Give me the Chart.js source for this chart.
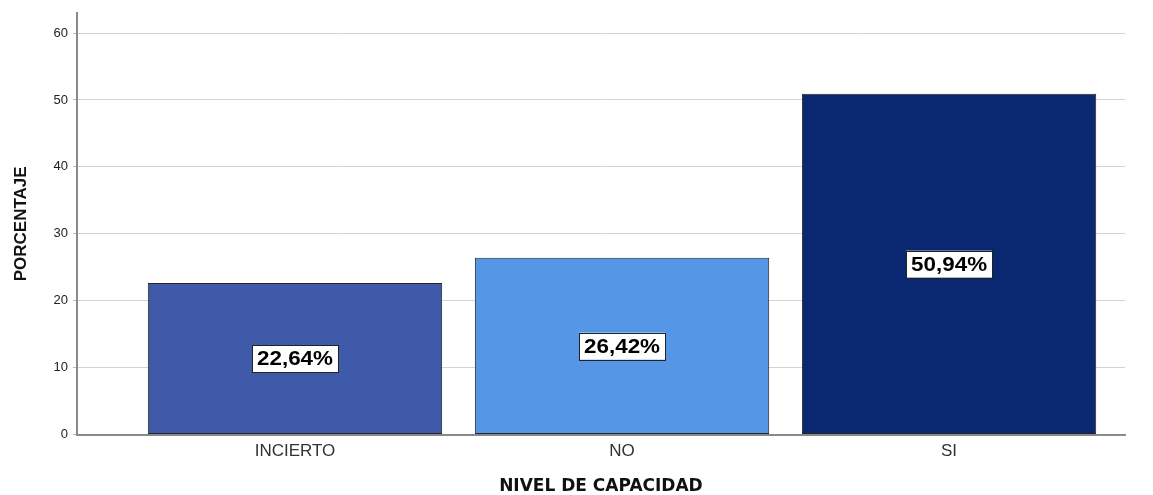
<!DOCTYPE html>
<html>
<head>
<meta charset="utf-8">
<script src="https://cdn.jsdelivr.net/npm/chart.js@4"></script>
<style>
  body { margin: 0; background: #fff; }
  #wrap { width: 1153px; height: 495px; }
</style>
</head>
<body>
<div id="wrap"><canvas id="myChart"></canvas></div>
<script>
'use strict';
const categories = ['INCIERTO', 'NO', 'SI'];
const values = [22.64, 26.42, 50.94];
const valueLabels = ['22,64%', '26,42%', '50,94%'];
const yTicks = [0, 10, 20, 30, 40, 50, 60];
const barColors = ['#3e5aa8', '#5596e6', '#0a2872'];

// boxed percentage labels in the middle of each bar
const boxLabels = {
  id: 'boxLabels',
  afterDatasetsDraw(chart) {
    let ctx = chart.ctx;
    let meta = chart.getDatasetMeta(0);
    let yScale = chart.scales.y;
    let stretch = 1.12;
    ctx.save();
    ctx.font = 'bold 20px "Liberation Sans", Arial, sans-serif';
    ctx.textAlign = 'center';
    ctx.textBaseline = 'middle';
    for (let i = 0; i < meta.data.length; i++) {
      let bar = meta.data[i];
      let y = yScale.getPixelForValue(values[i] / 2);
      let w = ctx.measureText(valueLabels[i]).width * stretch + 10;
      let h = 27;
      ctx.fillStyle = '#fff';
      ctx.fillRect(bar.x - w / 2, y - h / 2, w, h);
      ctx.strokeStyle = '#222';
      ctx.lineWidth = 1;
      ctx.strokeRect(Math.round(bar.x - w / 2) + 0.5, Math.round(y - h / 2) + 0.5, Math.round(w), h);
      ctx.fillStyle = '#000';
      ctx.save();
      ctx.translate(bar.x, y + 1);
      ctx.scale(stretch, 1);
      ctx.fillText(valueLabels[i], 0, 0);
      ctx.restore();
    }
    ctx.restore();
  }
};

let ctx = document.getElementById('myChart').getContext('2d');
let myChart = new Chart(ctx, {
  type: 'bar',
  data: {
    datasets: [{
      data: values.map((v, i) => ({ x: i, y: v })),
      backgroundColor: barColors,
      borderColor: '#262626',
      borderWidth: 1,
      borderSkipped: false,
      barPercentage: 0.9,
      categoryPercentage: 1.0
    }]
  },
  plugins: [boxLabels],
  options: {
    responsive: true,
    maintainAspectRatio: false,
    animation: false,
    layout: { padding: { top: 13, right: 28, left: 11, bottom: 0 } },
    plugins: {
      legend: { display: false },
      tooltip: { enabled: false }
    },
    scales: {
      x: {
        type: 'linear',
        offset: false,
        min: -0.667,
        max: 2.538,
        afterBuildTicks(scale) {
          scale.ticks = categories.map((c, i) => ({ value: i }));
        },
        ticks: {
          callback: (v) => categories[v],
          color: '#333',
          font: { family: '"Liberation Sans", Arial, sans-serif', size: 17 },
          padding: 7,
          maxRotation: 0
        },
        grid: { display: false, drawTicks: false },
        border: { color: '#8a8a8a', width: 2 },
        title: {
          display: true,
          text: 'NIVEL DE CAPACIDAD',
          color: '#111',
          font: { family: '"DejaVu Sans", sans-serif', size: 17, weight: 'bold', lineHeight: 1 },
          padding: { top: 9, bottom: 0 }
        }
      },
      y: {
        min: 0,
        max: 63,
        afterBuildTicks(scale) {
          scale.ticks = yTicks.map(v => ({ value: v }));
        },
        ticks: {
          color: '#222',
          font: { family: '"Liberation Sans", Arial, sans-serif', size: 13 },
          padding: 5
        },
        grid: { color: '#d4d4d4', lineWidth: 1, tickLength: 4, tickColor: '#bbb' },
        border: { color: '#8a8a8a', width: 2 },
        title: {
          display: true,
          text: 'PORCENTAJE',
          color: '#111',
          font: { family: '"Liberation Sans Narrow", "Liberation Sans", Arial, sans-serif', size: 17, weight: 'bold' },
          padding: { top: 0, bottom: 17 }
        }
      }
    }
  }
});
</script>
</body>
</html>
